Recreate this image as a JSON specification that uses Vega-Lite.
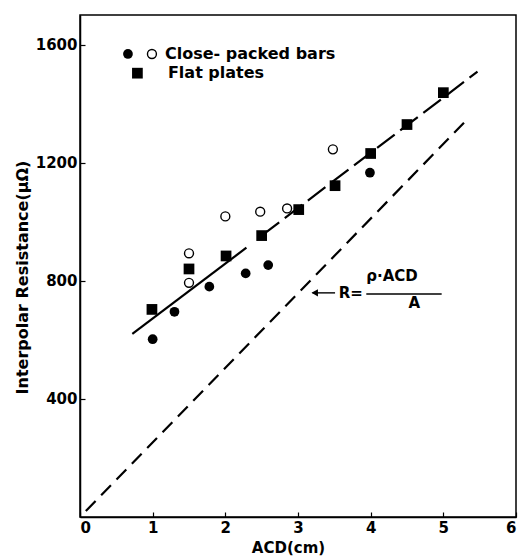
{
  "$schema": "https://vega.github.io/schema/vega-lite/v6.json",
  "width": 436,
  "height": 502,
  "autosize": "none",
  "padding": {"left": 80, "top": 15, "right": 2, "bottom": 40},
  "background": "white",
  "config": {
    "view": {"stroke": "#000", "strokeWidth": 1.5},
    "axis": {
      "grid": false,
      "domainColor": "#000",
      "domainWidth": 1.5,
      "tickColor": "#000",
      "tickSize": -5,
      "tickWidth": 1.2,
      "labelFont": "DejaVu Sans",
      "labelFontWeight": "bold",
      "labelFontSize": 15,
      "labelColor": "#000",
      "titleFont": "DejaVu Sans",
      "titleFontWeight": "bold",
      "titleColor": "#000"
    },
    "text": {"font": "DejaVu Sans", "fontWeight": "bold", "color": "#000"}
  },
  "encoding": {
    "x": {
      "field": "acd", "type": "quantitative",
      "scale": {"domain": [0, 6], "nice": false},
      "axis": {"values": [0, 1, 2, 3, 4, 5, 6], "format": "d", "title": "ACD(cm)", "titleFontSize": 15, "labelPadding": 8, "titleX": 208, "titleY": 30, "titleBaseline": "middle"}
    },
    "y": {
      "field": "r", "type": "quantitative",
      "scale": {"domain": [0, 1700], "nice": false},
      "axis": {"values": [400, 800, 1200, 1600], "format": "d", "title": "Interpolar Resistance(μΩ)", "titleFontSize": 16, "labelPadding": 8, "titleX": -58, "titleY": 262, "titleBaseline": "middle", "titleAngle": -90}
    }
  },
  "layer": [
    {
      "data": {"values": [
        {"acd": 0.72, "r": 620, "grp": "fit_solid"},
        {"acd": 2.29, "r": 912, "grp": "fit_solid"}
      ]},
      "mark": {"type": "line", "color": "#000", "strokeWidth": 2.2},
      "encoding": {"detail": {"field": "grp"}}
    },
    {
      "data": {"values": [
        {"acd": 2.5, "r": 953, "grp": "fit_dash"},
        {"acd": 5.47, "r": 1508, "grp": "fit_dash"}
      ]},
      "mark": {"type": "line", "color": "#000", "strokeWidth": 2.2, "strokeDash": [22, 7]},
      "encoding": {"detail": {"field": "grp"}}
    },
    {
      "data": {"values": [
        {"acd": 0.08, "r": 20, "grp": "theory"},
        {"acd": 5.32, "r": 1344, "grp": "theory"}
      ]},
      "mark": {"type": "line", "color": "#000", "strokeWidth": 2.2, "strokeDash": [14, 8]},
      "encoding": {"detail": {"field": "grp"}}
    },
    {
      "data": {"name": "pts", "values": [
        {"acd": 1.0, "r": 602, "type": "bars_filled"},
        {"acd": 1.30, "r": 695, "type": "bars_filled"},
        {"acd": 1.78, "r": 780, "type": "bars_filled"},
        {"acd": 2.28, "r": 825, "type": "bars_filled"},
        {"acd": 2.59, "r": 853, "type": "bars_filled"},
        {"acd": 3.99, "r": 1166, "type": "bars_filled"},
        {"acd": 1.5, "r": 893, "type": "bars_open"},
        {"acd": 1.5, "r": 793, "type": "bars_open"},
        {"acd": 2.0, "r": 1018, "type": "bars_open"},
        {"acd": 2.48, "r": 1034, "type": "bars_open"},
        {"acd": 2.85, "r": 1045, "type": "bars_open"},
        {"acd": 3.48, "r": 1245, "type": "bars_open"},
        {"acd": 0.99, "r": 703, "type": "plates"},
        {"acd": 1.5, "r": 840, "type": "plates"},
        {"acd": 2.01, "r": 884, "type": "plates"},
        {"acd": 2.5, "r": 953, "type": "plates"},
        {"acd": 3.01, "r": 1041, "type": "plates"},
        {"acd": 3.51, "r": 1122, "type": "plates"},
        {"acd": 4.0, "r": 1231, "type": "plates"},
        {"acd": 4.5, "r": 1329, "type": "plates"},
        {"acd": 5.0, "r": 1437, "type": "plates"},
        {"acd": 0.66, "r": 1568, "type": "legend_filled"},
        {"acd": 0.99, "r": 1568, "type": "legend_open"},
        {"acd": 0.79, "r": 1503, "type": "legend_plates"}
      ]},
      "layer": [
        {
          "transform": [{"filter": "datum.type == 'plates' || datum.type == 'legend_plates'"}],
          "mark": {"type": "square", "color": "#000", "size": 115, "opacity": 1}
        },
        {
          "transform": [{"filter": "datum.type == 'bars_filled' || datum.type == 'legend_filled'"}],
          "mark": {"type": "circle", "color": "#000", "size": 95, "opacity": 1}
        },
        {
          "transform": [{"filter": "datum.type == 'bars_open' || datum.type == 'legend_open'"}],
          "mark": {"type": "point", "shape": "circle", "filled": false, "fill": "white", "fillOpacity": 1, "stroke": "#000", "strokeWidth": 1.4, "size": 80, "opacity": 1}
        }
      ]
    },
    {
      "data": {"values": [
        {"acd": 1.17, "r": 1568, "label": "Close- packed bars", "fs": "16"},
        {"acd": 1.21, "r": 1503, "label": "Flat plates", "fs": "16"}
      ]},
      "mark": {"type": "text", "align": "left", "baseline": "middle", "fontSize": 16},
      "encoding": {"text": {"field": "label"}}
    },
    {
      "data": {"values": [
        {"acd": 3.56, "r": 759, "label": "R="},
        {"acd": 3.94, "r": 815, "label": "ρ·ACD"}
      ]},
      "mark": {"type": "text", "align": "left", "baseline": "middle", "fontSize": 15},
      "encoding": {"text": {"field": "label"}}
    },
    {
      "data": {"values": [
        {"acd": 4.6, "r": 725, "label": "A"}
      ]},
      "mark": {"type": "text", "align": "center", "baseline": "middle", "fontSize": 15},
      "encoding": {"text": {"field": "label"}}
    },
    {
      "data": {"values": [
        {"acd": 3.2, "acd2": 3.51, "r": 759},
        {"acd": 3.94, "acd2": 4.977, "r": 755}
      ]},
      "mark": {"type": "rule", "color": "#000", "strokeWidth": 1.4},
      "encoding": {"x2": {"field": "acd2"}}
    },
    {
      "data": {"values": [
        {"acd": 3.23, "r": 759}
      ]},
      "mark": {"type": "point", "shape": "triangle-left", "filled": true, "color": "#000", "size": 55, "opacity": 1},
      "encoding": {}
    }
  ]
}
